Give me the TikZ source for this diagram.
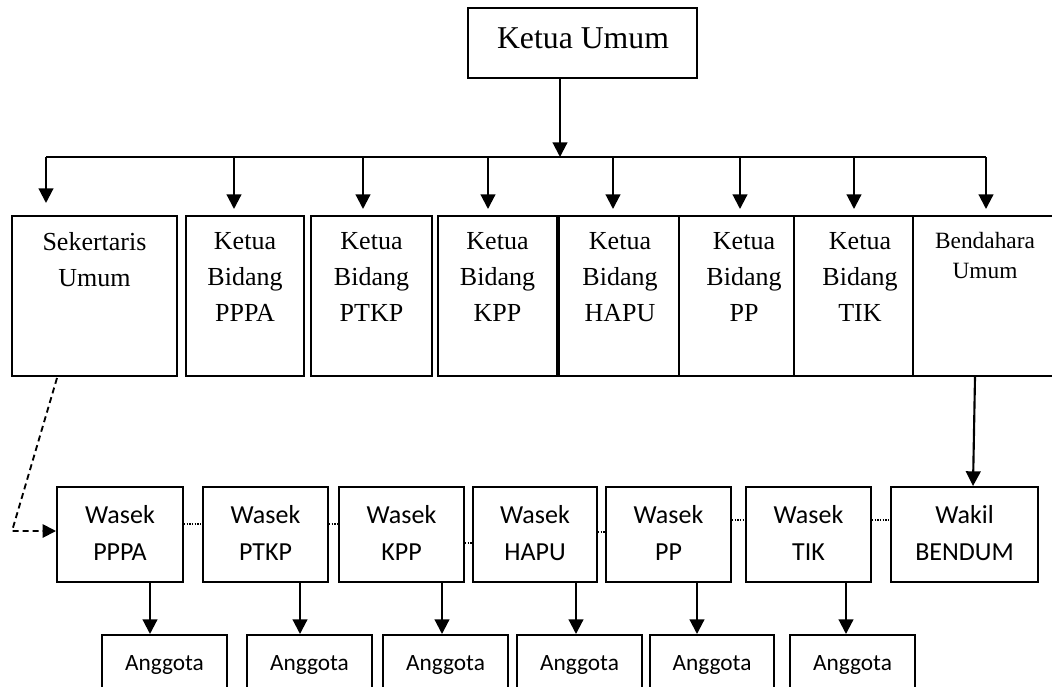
\documentclass[tikz,border=0pt]{standalone}
\usepackage{fontspec}
\setmainfont{Liberation Serif}
\newfontfamily\calfont{Carlito}
\usetikzlibrary{arrows.meta,calc}
\begin{document}
\begin{tikzpicture}[x=0.75pt,y=-0.75pt,
  box/.style={draw,line width=1.5pt,inner sep=0pt},
  topbox/.style={box,minimum height=120pt},
  ttext/.style={font=\fontsize{19.5}{27}\selectfont,align=center,anchor=north,inner sep=0pt},
  wbox/.style={box,minimum height=71.25pt,align=center,font=\calfont\fontsize{19.5}{27.75}\selectfont},
  abox/.style={box,minimum height=45pt,minimum width=93.75pt,font=\calfont\fontsize{17.5}{21}\selectfont},
  arr/.style={line width=1.6pt,-{Triangle[length=11pt,width=11pt]}},
  dasharr/.style={line width=1.4pt,dash pattern=on 4.5pt off 3pt,-{Triangle[length=10pt,width=10pt]}},
  dotline/.style={line width=1pt,dash pattern=on 1pt off 1pt},
  bus/.style={line width=1.6pt}]
\useasboundingbox (0,0) rectangle (1052,686);
\clip (0,0) rectangle (1052,686);

% top
\node[box,minimum width=171.75pt,minimum height=52.5pt] (ku) at (582.5,43) {};
\node[anchor=base,inner sep=0pt,font=\fontsize{23.8}{27}\selectfont] (kut) at (583,48) {Ketua Umum};

% second row boxes
\node[topbox,minimum width=123.75pt] (sek) at (94.5,296) {};
\node[topbox,minimum width=88.5pt] (pppa) at (245,296) {};
\node[topbox,minimum width=90.75pt] (ptkp) at (371.5,296) {};
\node[topbox,minimum width=89.25pt] (kpp) at (497.5,296) {};
\node[topbox,minimum width=90pt] (hapu) at (619,296) {};
\node[topbox,minimum width=86.25pt] (pp) at (736.5,296) {};
\node[topbox,minimum width=89.25pt] (tik) at (853.5,296) {};
\node[topbox,minimum width=117.75pt] (bend) at (991.5,296) {};

\node[ttext] (sekt) at (94.5,232) {Sekertaris\\Umum};
\node[ttext] (pppat) at (245,232) {Ketua\\Bidang\\PPPA};
\node[ttext] (ptkpt) at (371.5,232) {Ketua\\Bidang\\PTKP};
\node[ttext] (kppt) at (497.5,232) {Ketua\\Bidang\\KPP};
\node[ttext] (haput) at (620,232) {Ketua\\Bidang\\HAPU};
\node[ttext] (ppt) at (744,232) {Ketua\\Bidang\\PP};
\node[ttext] (tikt) at (860,232) {Ketua\\Bidang\\TIK};
\node[ttext,font=\fontsize{17.5}{22.5}\selectfont] (bendt) at (985,232) {Bendahara\\Umum};

% bus
\coordinate (b1) at (46,157);
\coordinate (b2) at (234,157);
\coordinate (b3) at (363,157);
\coordinate (b4) at (488,157);
\coordinate (b5) at (613,157);
\coordinate (b6) at (740,157);
\coordinate (b7) at (854,157);
\coordinate (b8) at (986,157);
\draw[arr] ($(ku.south)+(-22.5,0)$) coordinate (kd) -- (kd |- b1);
\draw[bus] (b1) -- (b8);
\draw[arr,shorten >=9pt] (b1) -- (b1 |- sek.north);
\draw[arr,shorten >=4.5pt] (b2) -- (b2 |- pppa.north);
\draw[arr,shorten >=4.5pt] (b3) -- (b3 |- ptkp.north);
\draw[arr,shorten >=4.5pt] (b4) -- (b4 |- kpp.north);
\draw[arr,shorten >=4.5pt] (b5) -- (b5 |- hapu.north);
\draw[arr,shorten >=4.5pt] (b6) -- (b6 |- pp.north);
\draw[arr,shorten >=4.5pt] (b7) -- (b7 |- tik.north);
\draw[arr,shorten >=4.5pt] (b8) -- (b8 |- bend.north);

% wasek row
\node[wbox,minimum width=94.5pt] (w1) at (120,534.5) {Wasek\strut\\PPPA\strut};
\node[wbox,minimum width=93.75pt] (w2) at (265.5,534.5) {Wasek\strut\\PTKP\strut};
\node[wbox,minimum width=93.75pt] (w3) at (401.5,534.5) {Wasek\strut\\KPP\strut};
\node[wbox,minimum width=93pt] (w4) at (535,534.5) {Wasek\strut\\HAPU\strut};
\node[wbox,minimum width=93.75pt] (w5) at (668.5,534.5) {Wasek\strut\\PP\strut};
\node[wbox,minimum width=93.75pt] (w6) at (808.5,534.5) {Wasek\strut\\TIK\strut};
\node[wbox,minimum width=110.25pt] (wak) at (964.5,534.5) {Wakil\strut\\BENDUM\strut};

% dotted links
\draw[dotline] ($(w1.east)+(0,-10.5)$) coordinate (d1) -- (d1 -| w2.west);
\draw[dotline] ($(w2.east)+(0,-10.5)$) coordinate (d2) -- (d2 -| w3.west);
\draw[dotline] ($(w3.east)+(0,8.5)$) coordinate (d3) -- (d3 -| w4.west);
\draw[dotline] ($(w4.east)+(0,-2.5)$) coordinate (d4) -- (d4 -| w5.west);
\draw[dotline] ($(w5.east)+(0,-14.5)$) coordinate (d5) -- (d5 -| w6.west);
\draw[dotline] ($(w6.east)+(0,-14.5)$) coordinate (d6) -- (d6 -| wak.west);

% dashed link
\coordinate (dc) at (12,531);
\draw[dasharr] ($(sek.south)+(-37.5,1)$) -- (dc) -- (dc -| w1.west);

% bendahara to wakil
\draw[arr] ($(bend.south)+(-16.5,0)$) -- ($(wak.north)+(8.5,0)$);

% anggota row
\node[abox] (a1) at (164.5,665) {Anggota};
\node[abox] (a2) at (309.5,665) {Anggota};
\node[abox] (a3) at (445.5,665) {Anggota};
\node[abox] (a4) at (579.5,665) {Anggota};
\node[abox,minimum width=93pt] (a5) at (712,665) {Anggota};
\node[abox] (a6) at (852.5,665) {Anggota};

\draw[arr] ($(w1.south)+(30,0)$) coordinate (e1) -- (e1 |- a1.north);
\draw[arr] ($(w2.south)+(34.5,0)$) coordinate (e2) -- (e2 |- a2.north);
\draw[arr] ($(w3.south)+(40.5,0)$) coordinate (e3) -- (e3 |- a3.north);
\draw[arr] ($(w4.south)+(41,0)$) coordinate (e4) -- (e4 |- a4.north);
\draw[arr] ($(w5.south)+(28.5,0)$) coordinate (e5) -- (e5 |- a5.north);
\draw[arr] ($(w6.south)+(37.5,0)$) coordinate (e6) -- (e6 |- a6.north);
\end{tikzpicture}
\end{document}
